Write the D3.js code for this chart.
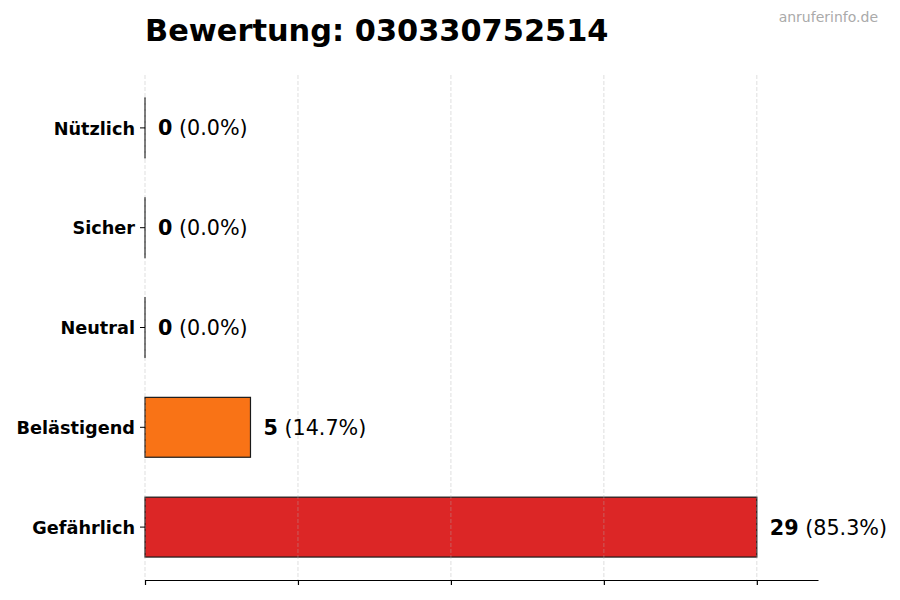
<!DOCTYPE html>
<html>
<head>
<meta charset="utf-8">
<script src="https://cdn.jsdelivr.net/npm/d3@7"></script>
<style>
  body { margin: 0; background: #fff; }
  text { font-family: "DejaVu Sans", sans-serif; }
</style>
</head>
<body>
<div id="chart"></div>
<script>
// Rating chart data
const categories = ["Nützlich", "Sicher", "Neutral", "Belästigend", "Gefährlich"];
const counts = [0, 0, 0, 5, 29];
const percents = ["0.0%", "0.0%", "0.0%", "14.7%", "85.3%"];
const barColors = ["#22c55e", "#3b82f6", "#9ca3af", "#f97316", "#dc2626"];
const xTicks = [0, 7.25, 14.5, 21.75, 29];
const xMax = 31.9;

const width = 900, height = 600;
const margin = {top: 75, right: 82, bottom: 20, left: 145};

const svg = d3.select('#chart')
    .append('svg')
    .attr('width', width)
    .attr('height', height);

const x = d3.scaleLinear()
    .domain([0, xMax])
    .range([margin.left, width - margin.right]);

const y = d3.scaleBand()
    .domain(categories)
    .range([margin.top, height - margin.bottom])
    .paddingInner(0.4)
    .paddingOuter(0.23);

// Bars (zero bars still show their edge, like matplotlib)
svg.append('g')
    .selectAll('rect')
    .data(categories)
    .join('rect')
    .attr('x', x(0))
    .attr('y', d => y(d))
    .attr('width', (d, i) => Math.max(x(counts[i]) - x(0), 0.01))
    .attr('height', y.bandwidth())
    .attr('fill', (d, i) => barColors[i])
    .attr('stroke', '#1a1a1a')
    .attr('stroke-width', 1.2);

// Grid (drawn above bars)
svg.append('g')
    .selectAll('line')
    .data(xTicks)
    .join('line')
    .attr('x1', d => x(d))
    .attr('x2', d => x(d))
    .attr('y1', margin.top)
    .attr('y2', height - margin.bottom)
    .attr('stroke', '#b0b0b0')
    .attr('stroke-opacity', 0.5)
    .attr('stroke-dasharray', '4,2')
    .attr('stroke-width', 0.8);

// X axis without labels
const xAxis = svg.append('g')
    .attr('transform', `translate(0,${height - margin.bottom})`)
    .call(d3.axisBottom(x).tickValues(xTicks).tickFormat('').tickSize(5).tickSizeOuter(0));
xAxis.select('.domain').attr('stroke', '#000').attr('stroke-width', 1.2);
xAxis.selectAll('.tick line').attr('stroke', '#000').attr('stroke-width', 1.2);

// Y axis (ticks only, no spine)
const yAxis = svg.append('g')
    .attr('transform', `translate(${margin.left},0)`)
    .call(d3.axisLeft(y).tickSize(5).tickPadding(5));
yAxis.select('.domain').remove();
yAxis.selectAll('.tick line').attr('stroke', '#000').attr('stroke-width', 1);
yAxis.selectAll('.tick text')
    .attr('font-size', 17.7)
    .attr('font-weight', 'bold')
    .attr('fill', '#000')
    .attr('dy', '0.38em')
    .style('font-family', '"DejaVu Sans", sans-serif');

// Value labels
const labels = svg.append('g')
    .selectAll('text')
    .data(categories)
    .join('text')
    .attr('x', (d, i) => x(counts[i]) + 13)
    .attr('y', d => y(d) + y.bandwidth() / 2)
    .attr('dy', '0.36em')
    .attr('font-size', 20.7)
    .attr('fill', '#000');
labels.append('tspan')
    .attr('font-weight', 'bold')
    .text((d, i) => counts[i]);
labels.append('tspan')
    .text((d, i) => ` (${percents[i]})`);

// Title
svg.append('text')
    .attr('x', margin.left)
    .attr('y', 41)
    .attr('font-size', 30.4)
    .attr('font-weight', 'bold')
    .attr('fill', '#000')
    .text('Bewertung: 030330752514');

// Watermark
svg.append('text')
    .attr('x', 878)
    .attr('y', 22)
    .attr('text-anchor', 'end')
    .attr('font-size', 14)
    .attr('fill', '#aaaaaa')
    .text('anruferinfo.de');
</script>
</body>
</html>
